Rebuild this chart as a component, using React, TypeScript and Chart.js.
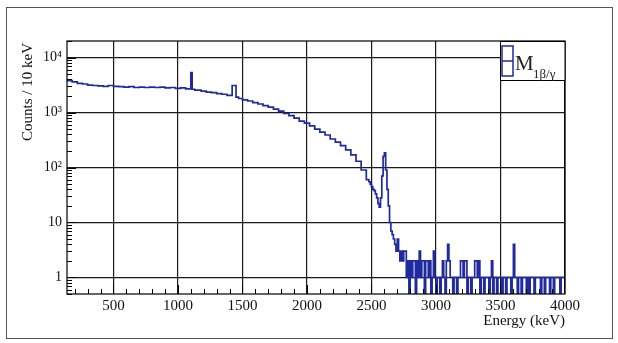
import React, { useEffect, useRef } from 'react';
import { Chart, registerables } from 'chart.js';

Chart.register(...registerables);

const X_MIN = 140;
const X_MAX = 4000;
const Y_MIN = 0.5;
const Y_MAX = 20000;
// empty bins are drawn down past the axis floor, like ROOT does on a log scale
const EMPTY_BIN_LEVEL = 0.05;

const xTickValues = [500, 1000, 1500, 2000, 2500, 3000, 3500, 4000];
const yTickValues = [1, 10, 100, 1000, 10000];
const yTickLabels = ['1', '10', '10\u00b2', '10\u00b3', '10\u2074'];

// main spectrum: bin low edges (keV) and counts per 10 keV
const mainEdges = [
  140, 180, 220, 260, 300, 340, 380, 420, 460, 500, 540, 580, 620, 660, 700, 740, 780, 820, 860, 900,
  940, 980, 1020, 1060, 1100, 1110, 1130, 1180, 1220, 1260, 1300, 1340, 1380, 1420, 1450, 1470, 1500,
  1540, 1580, 1620, 1660, 1700, 1740, 1780, 1820, 1860, 1900, 1940, 1980, 2020, 2060, 2100, 2140, 2180,
  2220, 2260, 2300, 2340, 2380, 2420, 2460, 2480, 2490, 2500, 2510, 2520, 2530, 2540, 2550, 2560, 2570,
  2580, 2590, 2600, 2610, 2620, 2630, 2640, 2650, 2660, 2670, 2680, 2690, 2700, 2710, 2720, 2730, 2740,
];
const mainCounts = [
  3900, 3800, 3600, 3400, 3300, 3150, 3100, 3050, 3000, 3100, 3000, 2950, 2900, 2950, 2850, 2900, 2850, 2900, 2850, 2900,
  2800, 2850, 2750, 2800, 2700, 5300, 2650, 2550, 2450, 2350, 2300, 2200, 2150, 2050, 3100, 1900, 1800,
  1700, 1620, 1520, 1430, 1330, 1250, 1150, 1060, 960, 880, 790, 700, 640, 570, 500, 440, 390,
  330, 290, 250, 210, 170, 130, 90, 60, 55, 50, 45, 40, 38, 33, 28, 22, 19,
  28, 70, 160, 185, 90, 40, 20, 10, 7, 6, 5, 4, 3, 5, 3, 2, 3,
];

// tail: 10 keV bins from 2750 keV
const tailStart = 2750;
const tailBinWidth = 10;
const tailCounts = [
  2, 3, 3, 1, 2, 0, 2, 1, 2, 2, 0, 2, 1, 3, 1, 2, 2, 0, 2, 2,
  1, 2, 0, 1, 3, 1, 0, 1, 1, 0, 1, 2, 1, 0, 2, 4, 2, 1, 1, 0,
  1, 1, 0, 1, 1, 2, 2, 1, 2, 2, 0, 1, 1, 0, 1, 1, 2, 2, 1, 2,
  0, 1, 1, 0, 1, 1, 1, 0, 1, 2, 0, 1, 1, 0, 1, 1, 1, 0, 1, 1,
  0, 1, 1, 1, 0, 1, 4, 1, 1, 0, 1, 1, 0, 1, 1, 1, 0, 1, 0, 1,
  1, 1, 0, 1, 1, 1, 1, 0, 1, 1, 0, 1, 1, 1, 0, 1, 1, 0, 1, 1,
  1, 1, 0, 1, 1,
];

const LINE_COLOR = '#1f2a9e';
const SERIF = '"Liberation Serif", "DejaVu Serif", serif';

function buildPoints() {
  const pts: { x: number; y: number }[] = [];
  const lvl = (c: number) => (c > 0 ? c : EMPTY_BIN_LEVEL);
  mainEdges.forEach((e, i) => pts.push({ x: e, y: lvl(mainCounts[i]) }));
  tailCounts.forEach((c, i) => pts.push({ x: tailStart + i * tailBinWidth, y: lvl(c) }));
  pts.push({ x: X_MAX, y: lvl(tailCounts[tailCounts.length - 1]) });
  return pts;
}

const decorPlugin = {
  id: 'decor',
  beforeDraw(chart: any) {
    const { ctx, width, height } = chart;
    ctx.save();
    ctx.fillStyle = '#ffffff';
    ctx.fillRect(0, 0, width, height);
    ctx.strokeStyle = '#555';
    ctx.lineWidth = 1;
    ctx.strokeRect(6.5, 7.5, 606, 331);
    ctx.restore();
  },
  afterDraw(chart: any) {
    const { ctx, chartArea: a, scales } = chart;
    const x = scales.x;
    const y = scales.y;
    ctx.save();
    ctx.strokeStyle = '#000';
    ctx.lineWidth = 1.2;
    ctx.strokeRect(a.left, a.top, a.right - a.left, a.bottom - a.top);
    // y minor / major ticks
    ctx.lineWidth = 1;
    ctx.beginPath();
    for (let k = -1; k <= 4; k++) {
      for (let m = 1; m <= 9; m++) {
        const v = m * Math.pow(10, k);
        if (v < Y_MIN || v > Y_MAX) continue;
        const py = Math.round(y.getPixelForValue(v)) + 0.5;
        const len = m === 1 ? 9 : 5;
        ctx.moveTo(a.left, py);
        ctx.lineTo(a.left + len, py);
      }
    }
    // x minor ticks
    for (let v = 200; v < X_MAX; v += 100) {
      if (v < X_MIN) continue;
      const px = Math.round(x.getPixelForValue(v)) + 0.5;
      const len = v % 500 === 0 ? 9 : 5;
      ctx.moveTo(px, a.bottom);
      ctx.lineTo(px, a.bottom - len);
    }
    ctx.stroke();

    // axis titles
    ctx.fillStyle = '#111';
    ctx.font = `15px ${SERIF}`;
    ctx.textAlign = 'right';
    ctx.textBaseline = 'alphabetic';
    ctx.fillText('Energy (keV)', a.right, 325);
    ctx.save();
    ctx.translate(32, a.top + 2);
    ctx.rotate(-Math.PI / 2);
    ctx.font = `15px ${SERIF}`;
    ctx.textAlign = 'right';
    ctx.fillText('Counts / 10 keV', 0, 0);
    ctx.restore();

    // legend
    const lx = 500;
    const ly = a.top;
    ctx.fillStyle = '#fff';
    ctx.fillRect(lx, ly, a.right - lx, 39);
    ctx.strokeStyle = '#000';
    ctx.lineWidth = 1;
    ctx.strokeRect(lx + 0.5, ly + 0.5, a.right - lx - 0.5, 39);
    ctx.strokeStyle = LINE_COLOR;
    ctx.lineWidth = 1.5;
    ctx.strokeRect(502, 46, 11, 30);
    ctx.beginPath();
    ctx.moveTo(502, 61);
    ctx.lineTo(513, 61);
    ctx.stroke();
    ctx.fillStyle = '#222';
    ctx.textAlign = 'left';
    ctx.font = `21px ${SERIF}`;
    ctx.fillText('M', 515, 70);
    ctx.font = `13px ${SERIF}`;
    ctx.fillText('1\u03b2/\u03b3', 533, 78);
    ctx.restore();
  },
};

export default function App() {
  const ref = useRef<HTMLCanvasElement | null>(null);
  useEffect(() => {
    if (!ref.current) return;
    const chart = new Chart(ref.current, {
      type: 'line',
      data: {
        datasets: [
          {
            label: 'M1b/g',
            data: buildPoints(),
            stepped: 'after',
            borderColor: LINE_COLOR,
            borderWidth: 1.7,
            pointRadius: 0,
            fill: false,
            tension: 0,
          },
        ],
      },
      options: {
        animation: false,
        responsive: true,
        maintainAspectRatio: false,
        layout: { padding: { top: 41, right: 53, left: 0, bottom: 0 } },
        plugins: { legend: { display: false }, tooltip: { enabled: false } },
        scales: {
          x: {
            type: 'linear',
            min: X_MIN,
            max: X_MAX,
            afterBuildTicks: (s: any) => {
              s.ticks = xTickValues.map((v) => ({ value: v }));
            },
            afterFit: (s: any) => {
              s.height = 49;
            },
            grid: { color: '#1a1a1a', lineWidth: 1.2, drawTicks: false },
            border: { display: false },
            ticks: {
              autoSkip: false,
              maxRotation: 0,
              padding: 3,
              color: '#111',
              font: { family: SERIF, size: 15 },
              callback: (v: any) => String(v),
            },
          },
          y: {
            type: 'logarithmic',
            min: Y_MIN,
            max: Y_MAX,
            afterBuildTicks: (s: any) => {
              s.ticks = yTickValues.map((v) => ({ value: v }));
            },
            afterFit: (s: any) => {
              s.width = 67;
            },
            grid: { color: '#1a1a1a', lineWidth: 1.2, drawTicks: false },
            border: { display: false },
            ticks: {
              autoSkip: false,
              padding: 5,
              color: '#111',
              font: { family: SERIF, size: 14 },
              callback: (v: any) => {
                const i = yTickValues.indexOf(Number(v));
                return i >= 0 ? yTickLabels[i] : '';
              },
            },
          },
        },
      },
      plugins: [decorPlugin],
    });
    return () => chart.destroy();
  }, []);
  return (
    <div style={{ position: 'absolute', left: 0, top: 0, width: 618, height: 343 }}>
      <canvas ref={ref} />
    </div>
  );
}
